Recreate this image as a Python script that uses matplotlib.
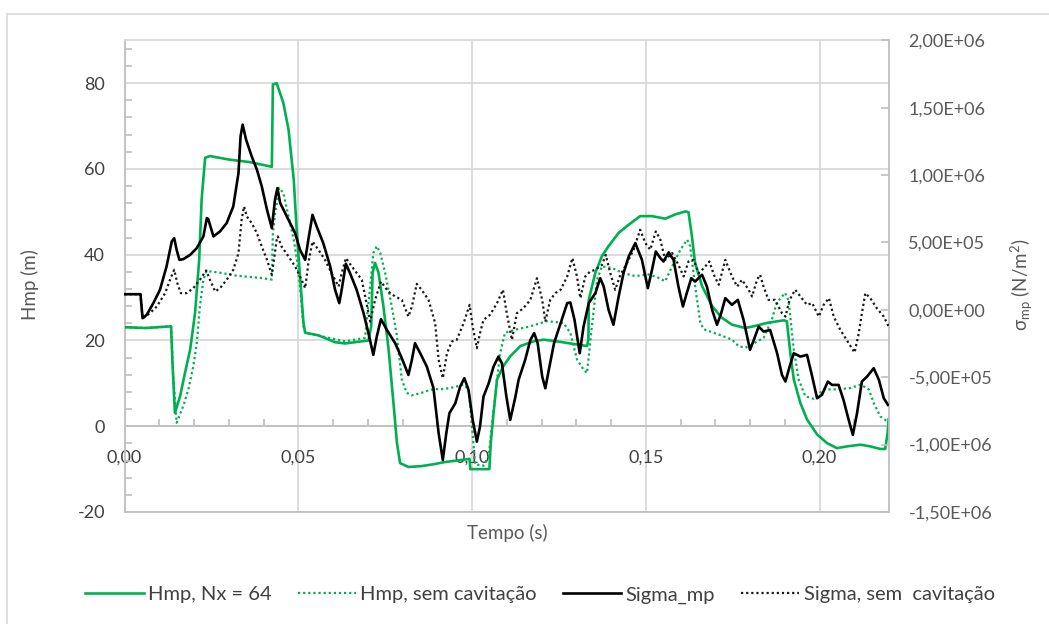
import matplotlib
matplotlib.use("Agg")
import matplotlib.pyplot as plt
from matplotlib.ticker import MultipleLocator, FixedLocator
from matplotlib.patches import Rectangle
from matplotlib.lines import Line2D
import numpy as np

plt.rcParams['font.family'] = ['Lato', 'DejaVu Sans']
plt.rcParams['mathtext.fontset'] = 'custom'
plt.rcParams['mathtext.rm'] = 'Lato'
plt.rcParams['mathtext.it'] = 'Lato:italic'
plt.rcParams['axes.unicode_minus'] = False

# ---------------- data ----------------
# Hmp with cavitation model (Nx = 64): time [ms], head [m]
t_hmp_ms = [0, 6, 13.4, 13.8, 14.5, 16, 17.4, 18.9, 20.3, 21.5, 22.2, 23.2, 24.6, 30, 36, 42.4,
            42.7, 43.8, 45.7, 47.2, 48.7, 49.6, 50.5, 51.5, 52.0, 55.8, 60.6, 63.5, 70.2, 71.0,
            71.4, 72.1, 73.1, 74.5, 76.0, 77.4, 78.4, 79.3, 81.7, 85.5, 89.4, 91.8, 97.6, 99.3,
            99.5, 105.0, 105.4, 106.2, 107.2, 109.0, 111.0, 113.9, 117.7, 120.6, 124.4, 128.3,
            133.1, 133.5, 133.6, 135.5, 137.4, 139.3, 142.2, 145.1, 148.4, 151.8, 155.6, 158.5,
            161.4, 162.3, 163.3, 164.2, 166.2, 169.1, 171.9, 174.8, 178.6, 181.0, 184.9, 189.7,
            190.6, 191.6, 192.6, 194.5, 196.4, 199.3, 202.1, 205.0, 207.9, 211.8, 214.6, 217.5,
            218.9, 219.6, 219.9]
hmp_nx64 = [23.1, 22.9, 23.3, 15, 3.1, 7, 12.4, 17.9, 26.4, 38.9, 52.9, 62.6, 63.0, 62.2, 61.6, 60.5,
            79.7, 80.0, 75.4, 69.2, 57.5, 45.1, 35.0, 24.1, 21.8, 21.2, 19.6, 19.3, 20.0, 23.3,
            35.8, 38.1, 35.8, 28.0, 17.9, 5.4, -3.9, -8.6, -9.5, -9.3, -8.8, -8.4, -7.8, -7.6,
            -10, -10, -3.9, 3.1, 10.9, 14.0, 16.3, 18.7, 19.8, 20.2, 19.8, 19.3,
            18.7, 20.2, 29.5, 35.8, 39.7, 42.0, 45.1, 47.0, 49.0, 49.0, 48.4, 49.4,
            50.1, 49.9, 44.2, 38.1, 32.7, 28.0, 25.3, 23.7, 22.9, 23.3, 24.1, 24.7,
            24.5, 17.1, 10.9, 5.4, 1.6, -1.9, -3.9, -5.1, -4.7, -4.3, -4.7, -5.3,
            -5.3, -1.6, 1.6]

# Hmp without cavitation: time [ms], head [m]
t_hmp_sc_ms = [0, 6, 13.4, 14.0, 15.0, 16.9, 18.4, 19.8, 20.8, 21.7, 22.7, 23.6, 27.5, 32.3, 39.0,
               42.4, 42.7, 43.3, 44.5, 45.7, 47.2, 48.7, 49.6, 50.5, 51.5, 52.0, 57.7, 63.5, 69.2,
               70.7, 71.6, 72.6, 73.6, 75.0, 76.9, 78.4, 79.8, 81.2, 82.7, 85.5, 88.9, 90.8, 93.7,
               97.6, 99.0, 100.0, 100.9, 103.3, 104.8, 105.7, 107.2, 108.1, 109.5, 112.9, 116.8,
               121.5, 126.3, 128.3, 130.2, 132.1, 133.1, 134.5, 136.0, 137.4, 140.3, 143.2, 147.0,
               150.8, 153.7, 155.6, 157.6, 160.0, 161.9, 162.8, 164.2, 165.7, 166.7, 171.0, 174.8,
               176.7, 178.6, 180.0, 183.9, 186.3, 187.7, 190.1, 191.1, 192.6, 194.0, 195.9, 198.3,
               201.2, 205.0, 208.9, 211.8, 214.2, 215.6, 217.5, 219.4]
hmp_sem_cav = [23.1, 22.9, 23.3, 12, 0.8, 4.7, 8.6, 14.0, 19.4, 28.0, 34.2, 36.2, 35.8, 35.1, 34.6,
               34.2, 45.0, 49.4, 55.6, 54.4, 49.0, 43.5, 38.9, 32.7, 23.3, 21.8, 20.8, 19.8, 20.6,
               32.7, 40.4, 42.0, 40.4, 35.8, 28.0, 21.0, 10.9, 7.8, 7.2, 7.8, 8.7, 8.6, 8.9,
               9.7, 8.6, 0.0, -8.9, -9.2, -7.0, 0.0, 10.9, 17.1, 21.8, 22.6, 23.3,
               24.5, 24.1, 21.8, 15.6, 13.2, 12.4, 23.3, 34.2, 37.3, 36.9, 35.8, 35.0,
               35.4, 34.6, 33.8, 37.3, 41.2, 43.5, 42.0, 32.7, 24.1, 22.6, 21.4, 20.2,
               18.7, 18.3, 18.8, 20.6, 24.9, 28.8, 31.1, 29.3, 17.9, 10.9, 7.0, 6.4,
               8.6, 8.6, 8.9, 9.7, 8.6, 5.4, 2.3, 1.2]

# Sigma_mp with cavitation: time [ms], stress [MPa]
t_sig_ms = [0, 4.6, 5.2, 6.4, 8.3, 10.2, 12.1, 13.6, 14.3, 15.0, 15.8, 16.9, 18.9, 20.8, 22.7, 23.7,
            24.1, 25.6, 27.5, 29.4, 31.3, 32.8, 33.4, 34.0, 35.0, 36.6, 38.1, 39.5, 41.0, 42.4,
            43.3, 44.0, 44.8, 47.2, 49.1, 50.5, 52.0, 52.9, 54.1, 55.3, 57.2, 59.2, 60.6, 61.8,
            62.5, 63.7, 64.9, 66.8, 68.8, 70.2, 71.6, 72.6, 73.8, 75.5, 77.9, 79.8, 81.7, 82.7,
            83.6, 85.1, 87.0, 88.9, 90.4, 91.6, 92.6, 93.5, 95.2, 96.6, 97.8, 99.0, 100.2, 101.4,
            102.3, 103.3, 104.8, 106.2, 107.6, 108.6, 109.9, 111.0, 112.5, 113.4, 115.3, 116.8,
            117.9, 118.9, 120.2, 121.1, 122.1, 123.6, 125.5, 127.4, 128.3, 129.5, 131.0, 132.1,
            133.6, 135.5, 136.9, 137.9, 139.3, 140.7, 142.2, 143.6, 145.1, 147.0, 148.9, 150.6,
            151.8, 152.9, 154.2, 155.1, 156.6, 158.0, 159.4, 160.7, 161.8, 163.1, 164.2, 166.2,
            167.6, 169.1, 170.5, 171.7, 172.9, 174.8, 176.5, 178.2, 180.0, 181.1, 182.5, 183.9,
            185.8, 187.8, 189.2, 190.2, 191.4, 192.6, 194.5, 196.4, 197.9, 199.3, 200.7, 202.4,
            203.6, 205.5, 206.9, 208.4, 209.6, 210.8, 212.2, 213.7, 215.6, 217.1, 218.5, 219.7]
sigma_mp = [0.116, 0.116, -0.062, -0.037, 0.05, 0.148, 0.322, 0.507, 0.532, 0.446, 0.371, 0.376,
            0.408, 0.458, 0.545, 0.681, 0.673, 0.545, 0.582, 0.644, 0.767, 1.015, 1.287, 1.374,
            1.262, 1.139, 1.040, 0.916, 0.743, 0.606, 0.817, 0.903, 0.792, 0.668, 0.569, 0.446,
            0.371, 0.520, 0.705, 0.619, 0.495, 0.322, 0.149, 0.050, 0.149, 0.342, 0.272, 0.149,
            -0.025, -0.173, -0.334, -0.198, -0.069, -0.149, -0.248, -0.359, -0.483, -0.371,
            -0.248, -0.322, -0.421, -0.580, -0.916, -1.114, -0.916, -0.767, -0.693, -0.569,
            -0.507, -0.594, -0.817, -0.978, -0.866, -0.644, -0.545, -0.421, -0.347, -0.396,
            -0.644, -0.817, -0.644, -0.520, -0.371, -0.223, -0.173, -0.248, -0.495, -0.582,
            -0.446, -0.248, -0.099, 0.050, 0.055, -0.074, -0.322, -0.124, 0.050, 0.124, 0.235,
            0.173, 0.000, -0.111, 0.099, 0.272, 0.396, 0.495, 0.371, 0.161, 0.297, 0.433, 0.384,
            0.359, 0.426, 0.371, 0.173, 0.025, 0.124, 0.235, 0.210, 0.260, 0.173, 0.000, -0.111,
            -0.025, 0.087, 0.037, 0.074, -0.080, -0.297, -0.223, -0.124, -0.161, -0.149, -0.322,
            -0.483, -0.532, -0.421, -0.322, -0.347, -0.334, -0.495, -0.656, -0.631, -0.532,
            -0.557, -0.557, -0.668, -0.817, -0.928, -0.767, -0.532, -0.495, -0.433, -0.520,
            -0.656, -0.705]

# Sigma without cavitation: time [ms], stress [MPa]
t_sig_sc_ms = [0, 4.6, 5.2, 7.3, 9.3, 11.7, 13.1, 14.3, 15.2, 16.2, 17.9, 19.8, 21.7, 23.5, 24.6,
               26.1, 27.5, 29.4, 31.3, 32.8, 33.7, 34.4, 35.2, 36.6, 38.1, 39.5, 41.0, 42.4, 43.0,
               43.8, 44.1, 45.2, 47.2, 49.1, 50.5, 52.0, 52.9, 54.1, 55.8, 57.7, 59.6, 61.6, 62.5,
               63.7, 65.4, 68.3, 70.7, 72.1, 73.8, 75.9, 77.9, 79.8, 81.7, 82.7, 84.1, 85.5, 87.5,
               89.4, 90.4, 91.6, 92.8, 94.2, 95.6, 97.6, 99.3, 100.2, 101.4, 102.3, 103.3, 105.2,
               107.2, 108.9, 110.0, 111.5, 112.9, 114.8, 116.8, 118.7, 120.2, 121.1, 122.5, 124.0,
               125.5, 127.4, 128.9, 130.2, 131.2, 132.6, 134.0, 135.5, 137.4, 138.5, 139.8, 141.2,
               142.7, 144.6, 146.5, 148.4, 149.9, 151.3, 152.9, 154.2, 155.6, 157.6, 159.4, 160.9,
               162.3, 163.8, 165.2, 166.7, 168.3, 169.6, 171.0, 172.9, 174.8, 176.3, 177.7, 179.6,
               180.6, 182.0, 182.9, 183.9, 185.3, 187.2, 189.2, 190.2, 191.4, 193.0, 194.5, 196.4,
               197.9, 199.8, 201.2, 202.7, 204.1, 206.0, 208.4, 210.1, 211.3, 212.2, 213.2, 214.6,
               216.5, 218.5, 219.9]
sigma_sem_cav = [0.116, 0.116, -0.062, -0.025, 0.025, 0.124, 0.223, 0.297, 0.198, 0.124, 0.124,
                 0.161, 0.223, 0.292, 0.223, 0.136, 0.161, 0.223, 0.297, 0.421, 0.668, 0.767,
                 0.693, 0.644, 0.569, 0.470, 0.371, 0.260, 0.371, 0.520, 0.545, 0.470, 0.396,
                 0.322, 0.248, 0.161, 0.347, 0.507, 0.446, 0.371, 0.272, 0.173, 0.272, 0.384,
                 0.322, 0.223, -0.087, 0.074, 0.210, 0.136, 0.099, 0.074, -0.050, 0.025, 0.193,
                 0.149, 0.074, -0.099, -0.371, -0.507, -0.322, -0.235, -0.223, -0.099, 0.037,
                 -0.124, -0.285, -0.173, -0.074, -0.037, 0.050, 0.149, -0.025, -0.223, -0.025,
                 0.012, 0.074, 0.235, 0.074, -0.087, 0.074, 0.124, 0.149, 0.248, 0.384, 0.248,
                 0.087, 0.248, 0.285, 0.297, 0.334, 0.408, 0.272, 0.149, 0.260, 0.347, 0.446,
                 0.594, 0.495, 0.446, 0.582, 0.520, 0.371, 0.421, 0.334, 0.248, 0.359, 0.371,
                 0.272, 0.309, 0.359, 0.260, 0.186, 0.371, 0.248, 0.173, 0.223, 0.149, 0.099,
                 0.223, 0.260, 0.173, 0.074, 0.074, -0.025, -0.050, 0.074, 0.149, 0.099, 0.037,
                 0.050, -0.050, 0.037, 0.087, -0.050, -0.149, -0.248, -0.317, -0.173, -0.025,
                 0.124, 0.087, 0.012, -0.050, -0.124]

x_ticks = [0.00, 0.05, 0.10, 0.15, 0.20]
x_tick_labels = ["0,00", "0,05", "0,10", "0,15", "0,20"]
left_ticks = [-20, 0, 20, 40, 60, 80]
right_ticks = [-1.5e6, -1.0e6, -0.5e6, 0.0, 0.5e6, 1.0e6, 1.5e6, 2.0e6]
legend_labels = ["Hmp, Nx = 64", "Hmp, sem cavitação", "Sigma_mp", "Sigma, sem  cavitação"]

# ---------------- styling ----------------
GREEN = "#00B050"
GRID = "#D9D9D9"
AXIS = "#BFBFBF"
DARK = "#404040"
GRAY = "#595959"
DOT = (0, (1.0, 1.3))

W, H = 1049, 624
fig = plt.figure(figsize=(W / 100, H / 100), dpi=100)
fig.patches.append(Rectangle((7 / W, -0.5), 2.0, (H - 14) / H + 0.5, fill=False,
                             edgecolor=GRID, linewidth=1.2, transform=fig.transFigure))

ax = fig.add_axes([124.5 / W, 1 - 512 / H, (889 - 124.5) / W, (512 - 40.3) / H])
ax2 = ax.twinx()

# head series (left axis)
ax.plot(np.array(t_hmp_ms) / 1000, hmp_nx64, color=GREEN, lw=1.9, solid_joinstyle='round', zorder=3)
ax.plot(np.array(t_hmp_sc_ms) / 1000, hmp_sem_cav, color=GREEN, lw=1.6, linestyle=DOT, zorder=3)

# stress series (right axis)
ax2.plot(np.array(t_sig_sc_ms) / 1000, np.array(sigma_sem_cav) * 1e6, color="#1a1a1a", lw=1.6,
         linestyle=DOT, zorder=3)
ax2.plot(np.array(t_sig_ms) / 1000, np.array(sigma_mp) * 1e6, color="black", lw=1.9,
         solid_joinstyle='round', zorder=4)

ax.set_xlim(0, 0.22)
ax.set_ylim(-20, 90)
ax2.set_ylim(-1.5e6, 2.0e6)

# grid
ax.set_axisbelow(True)
ax.grid(True, which='major', color=GRID, linewidth=1.3)
ax.axhline(-20, color=AXIS, linewidth=1.3, clip_on=False, zorder=2)

# spines
ax.spines['top'].set_color(GRID)
ax.spines['top'].set_linewidth(1.3)
ax.spines['right'].set_visible(False)
ax.spines['left'].set_color(AXIS)
ax.spines['left'].set_linewidth(1.3)
ax.spines['bottom'].set_position(('data', 0))
ax.spines['bottom'].set_color(AXIS)
ax.spines['bottom'].set_linewidth(1.3)
for s in ['top', 'left', 'bottom']:
    ax2.spines[s].set_visible(False)
ax2.spines['right'].set_color(AXIS)
ax2.spines['right'].set_linewidth(1.3)

# x axis
ax.xaxis.set_major_locator(FixedLocator(x_ticks))
ax.set_xticklabels(x_tick_labels)
ax.xaxis.set_minor_locator(MultipleLocator(0.01))
ax.tick_params(axis='x', which='major', length=0, pad=17, labelsize=13, labelcolor=DARK)
ax.tick_params(axis='x', which='minor', direction='in', length=5, width=1.2, color=AXIS)

# left y axis
ax.yaxis.set_major_locator(FixedLocator(left_ticks))
ax.yaxis.set_minor_locator(MultipleLocator(4))
ax.tick_params(axis='y', which='major', length=0, pad=14, labelsize=13, labelcolor=DARK)
ax.tick_params(axis='y', which='minor', direction='in', length=5, width=1.2, color=AXIS)

# right y axis
ax2.yaxis.set_major_locator(FixedLocator(right_ticks))
ax2.set_yticklabels([f"{v:.2E}".replace('.', ',') for v in right_ticks])
ax2.tick_params(axis='y', which='major', direction='in', length=6, width=1.2, color=AXIS,
                pad=14, labelsize=13, labelcolor=GRAY)

# axis titles
fig.text(30 / W, 1 - 285 / H, "Hmp (m)", rotation=90, ha='center', va='center',
         fontsize=13.5, color=GRAY)
fig.text(507 / W, 1 - 533 / H, "Tempo (s)", ha='center', va='center', fontsize=13.5, color=GRAY)
fig.text(1022 / W, 1 - 285 / H, "σ$_{\\mathrm{mp}}$ (N/m$^{2}$)", rotation=90, ha='center',
         va='center', fontsize=13.5, color=GRAY)

# legend
handles = [Line2D([], [], color=GREEN, lw=1.9),
           Line2D([], [], color=GREEN, lw=1.6, linestyle=DOT),
           Line2D([], [], color="black", lw=1.9),
           Line2D([], [], color="#1a1a1a", lw=1.6, linestyle=DOT)]
leg = fig.legend(handles, legend_labels, loc='center', bbox_to_anchor=(540 / W, 1 - 595 / H),
                 ncol=4, frameon=False, fontsize=14.5, handlelength=2.9, handletextpad=0.2,
                 columnspacing=1.3)
for txt in leg.get_texts():
    txt.set_color(DARK)

fig.savefig("out.png", dpi=100)
